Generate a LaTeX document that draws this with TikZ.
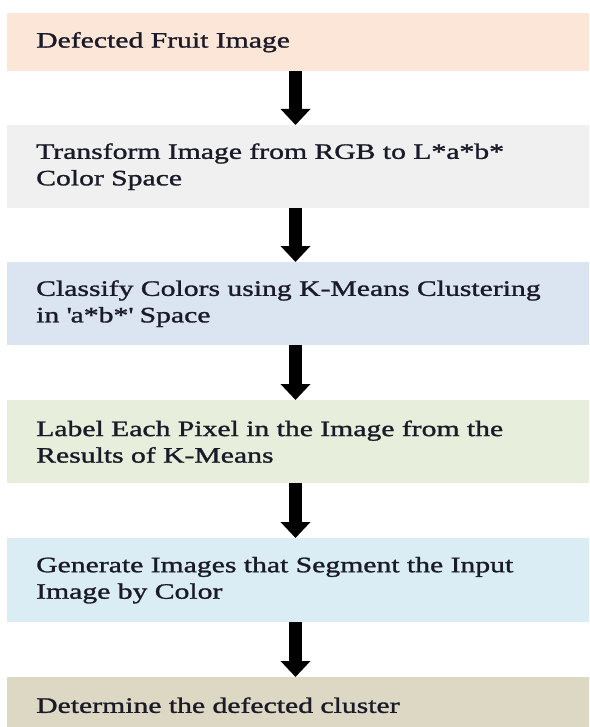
\documentclass[tikz,border=0pt]{standalone}
\usepackage{fontspec}
\setmainfont{Liberation Serif}[FakeStretch=1.35,FakeBold=1.3]
\usetikzlibrary{arrows.meta}
\definecolor{c1}{HTML}{FCE6D8}
\definecolor{c2}{HTML}{F0F0F0}
\definecolor{c3}{HTML}{DBE4F1}
\definecolor{c4}{HTML}{E7EEDB}
\definecolor{c5}{HTML}{DBEDF4}
\definecolor{c6}{HTML}{DDD8C3}
\definecolor{txt}{HTML}{1A1A28}
\begin{document}
\begin{tikzpicture}[x=1pt,y=1pt,
  stepbox/.style={rectangle, draw=none, anchor=north west, minimum width=600pt,
    text width=560pt, inner xsep=29pt, inner ysep=0pt, align=left,
    font=\fontsize{22}{26.5}\selectfont, text=txt},
  flowarrow/.style={line width=13pt, -{Triangle[width=29pt,length=16pt]}}]
\clip (0,0) rectangle (589,-727);
\fill[white] (0,0) rectangle (589,-727);
\node[stepbox, fill=c1, minimum height=58pt] (b1) at (7,-13) {Defected Fruit Image};
\node[stepbox, fill=c2, minimum height=83pt] (b2) at (7,-125) {Transform Image from RGB to L*a*b*\\Color Space};
\node[stepbox, fill=c3, minimum height=83pt] (b3) at (7,-262) {Classify Colors using K-Means Clustering\\in \textquotesingle a*b*\textquotesingle\ Space};
\node[stepbox, fill=c4, minimum height=83pt] (b4) at (7,-400) {Label Each Pixel in the Image from the\\Results of K-Means};
\node[stepbox, fill=c5, minimum height=84pt] (b5) at (7,-538) {Generate Images that Segment the Input\\Image by Color};
\node[stepbox, fill=c6, minimum height=56pt] (b6) at (7,-677) {Determine the defected cluster};
\foreach \a/\b in {b1/b2,b2/b3,b3/b4,b4/b5,b5/b6}{
  \draw[flowarrow] (295.5,0 |- \a.south) -- (295.5,0 |- \b.north);
}
\end{tikzpicture}
\end{document}
